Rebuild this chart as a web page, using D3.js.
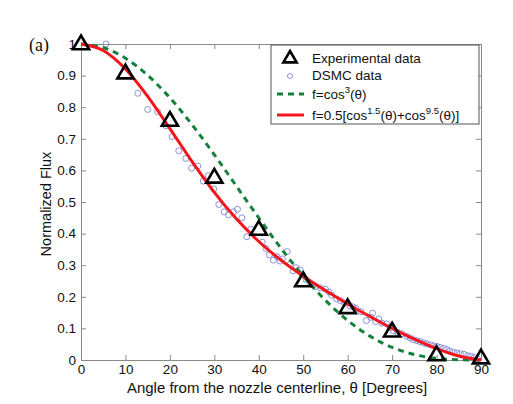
<!DOCTYPE html>
<html>
<head>
<meta charset="utf-8">
<script src="https://cdn.jsdelivr.net/npm/d3@7"></script>
<style>
  body { margin: 0; background: #fff; }
  svg { display: block; }
  text { font-family: "Liberation Sans", Arial, sans-serif; }
</style>
</head>
<body>
<svg id="chart" width="513" height="404"></svg>
<script>
// ---- Data ----
const expAngle = [0, 10, 20, 30, 40, 50, 60, 70, 80, 90];
const expFlux  = [1.0, 0.908, 0.758, 0.578, 0.413, 0.25, 0.165, 0.091, 0.016, 0.006];

const dsmcAngle = [5.6, 12.8, 15.0, 17.2, 19.1, 20.5, 22.0, 23.6, 24.9, 26.3, 27.5, 28.6, 29.9, 31.0, 32.2, 33.2, 34.3, 35.2, 36.2, 37.3, 38.2, 40.8, 41.6, 42.4, 43.3, 44.1, 44.8, 45.3, 46.4, 47.1, 47.7, 48.4, 49.3, 49.8, 50.6, 51.5, 52.2, 52.8, 53.9, 55.0, 55.8, 56.4, 57.5, 58.4, 59.3, 60.5, 61.2, 61.9, 63.0, 64.2, 65.2, 65.6, 66.3, 67.0, 67.7, 68.8, 69.5, 70.3, 71.2, 72.2, 73.3, 74.1, 74.8, 75.6, 76.3, 77.1, 77.8, 78.6, 79.3, 80.1, 80.8, 81.6, 82.3, 83.0, 83.8, 84.6, 85.4, 86.2, 87.0, 87.7, 88.5, 89.2];
const dsmcFlux  = [1.0, 0.844, 0.793, 0.786, 0.741, 0.707, 0.662, 0.638, 0.607, 0.614, 0.566, 0.583, 0.541, 0.492, 0.469, 0.459, 0.469, 0.477, 0.450, 0.390, 0.414, 0.373, 0.353, 0.333, 0.316, 0.327, 0.313, 0.320, 0.343, 0.303, 0.282, 0.292, 0.285, 0.270, 0.255, 0.245, 0.238, 0.233, 0.228, 0.224, 0.215, 0.205, 0.193, 0.188, 0.180, 0.171, 0.168, 0.163, 0.153, 0.125, 0.135, 0.148, 0.122, 0.130, 0.117, 0.114, 0.103, 0.092, 0.088, 0.083, 0.075, 0.069, 0.064, 0.061, 0.058, 0.054, 0.051, 0.048, 0.045, 0.043, 0.040, 0.037, 0.033, 0.028, 0.025, 0.022, 0.020, 0.018, 0.014, 0.012, 0.008, 0.004];

// model curves, tabulated every 5 degrees
const curveAngle = [0, 5, 10, 15, 20, 25, 30, 35, 40, 45, 50, 55, 60, 65, 70, 75, 80, 85, 90];
const cos3Flux   = [1, 0.98863, 0.955112, 0.901221, 0.829769, 0.744436, 0.649519, 0.549659, 0.449533, 0.353553, 0.265584, 0.1887, 0.125, 0.075482, 0.040009, 0.017338, 0.005236, 0.000662, 0];
const mixFlux    = [1, 0.97937, 0.920974, 0.83437, 0.732359, 0.627775, 0.530467, 0.445847, 0.374993, 0.315884, 0.265185, 0.219748, 0.177467, 0.13751, 0.100028, 0.065838, 0.036181, 0.012865, 0];

const xTicks = [0, 10, 20, 30, 40, 50, 60, 70, 80, 90];
const yTicks = [0, 0.1, 0.2, 0.3, 0.4, 0.5, 0.6, 0.7, 0.8, 0.9, 1];

// ---- Layout ----
const svg = d3.select("#chart");
const L = 81, R = 481, T = 44, B = 360;
const x = d3.scaleLinear().domain([0, 90]).range([L, R]);
const y = d3.scaleLinear().domain([0, 1]).range([B, T]);
const axisColor = "#8a8a8a";
const fmt = d3.format("~g");

// axes
const gx = svg.append("g").attr("transform", `translate(0,${B})`)
  .call(d3.axisBottom(x).tickValues(xTicks).tickSizeInner(-5).tickSizeOuter(0).tickPadding(4).tickFormat(fmt));
const gy = svg.append("g").attr("transform", `translate(${L},0)`)
  .call(d3.axisLeft(y).tickValues(yTicks).tickSizeInner(-5).tickSizeOuter(0).tickPadding(5).tickFormat(fmt));
const gt = svg.append("g").attr("transform", `translate(0,${T})`)
  .call(d3.axisTop(x).tickValues(xTicks).tickSizeInner(-5).tickSizeOuter(0).tickFormat(""));
const gr = svg.append("g").attr("transform", `translate(${R},0)`)
  .call(d3.axisRight(y).tickValues(yTicks).tickSizeInner(-5).tickSizeOuter(0).tickFormat(""));
[gx, gy, gt, gr].forEach(g => {
  g.selectAll("path.domain").attr("stroke", axisColor).attr("stroke-width", 1);
  g.selectAll(".tick line").attr("stroke", axisColor);
  g.selectAll("text").attr("fill", "#111").style("font-size", "13.5px")
    .style("font-family", '"Liberation Sans", Arial, sans-serif');
});

// DSMC circles
svg.append("g").selectAll("circle")
  .data(dsmcAngle.map((a, i) => [a, dsmcFlux[i]]))
  .join("circle")
  .attr("cx", d => x(d[0])).attr("cy", d => y(d[1])).attr("r", 3)
  .attr("fill", "none").attr("stroke", "#7f86d6").attr("stroke-width", 0.9);

// green dashed cos^3
const line = d3.line().x(d => x(d[0])).y(d => y(d[1])).curve(d3.curveMonotoneX);
svg.append("path")
  .datum(curveAngle.map((a, i) => [a, cos3Flux[i]]))
  .attr("d", line).attr("fill", "none").attr("stroke", "#14803c")
  .attr("stroke-width", 3).attr("stroke-dasharray", "6,5");

// red model
svg.append("path")
  .datum(curveAngle.map((a, i) => [a, mixFlux[i]]))
  .attr("d", line).attr("fill", "none").attr("stroke", "#f5141a")
  .attr("stroke-width", 3);

// triangles
const tri = s => `M0,${-s}L${s * 0.95},${s * 0.62}L${-s * 0.95},${s * 0.62}Z`;
svg.append("g").selectAll("path")
  .data(expAngle.map((a, i) => [a, expFlux[i]]))
  .join("path")
  .attr("transform", d => `translate(${x(d[0])},${y(d[1])})`)
  .attr("d", tri(8.5)).attr("fill", "none").attr("stroke", "#000")
  .attr("stroke-width", 2.6).attr("stroke-linejoin", "miter");

// legend
const lg = svg.append("g");
lg.append("rect").attr("x", 271).attr("y", 45).attr("width", 208).attr("height", 79)
  .attr("fill", "#fff").attr("stroke", "#555").attr("stroke-width", 1);
lg.append("path").attr("transform", "translate(290,58)").attr("d", tri(7))
  .attr("fill", "none").attr("stroke", "#000").attr("stroke-width", 2.6);
lg.append("circle").attr("cx", 290).attr("cy", 76).attr("r", 2.5)
  .attr("fill", "none").attr("stroke", "#7f86d6").attr("stroke-width", 0.9);
lg.append("line").attr("x1", 277).attr("x2", 304).attr("y1", 94).attr("y2", 94)
  .attr("stroke", "#14803c").attr("stroke-width", 3).attr("stroke-dasharray", "6,5");
lg.append("line").attr("x1", 277).attr("x2", 304).attr("y1", 115).attr("y2", 115)
  .attr("stroke", "#f5141a").attr("stroke-width", 3);
const lt = (yy) => lg.append("text").attr("x", 312).attr("y", yy).attr("fill", "#111").style("font-size", "13.5px");
lt(63).text("Experimental data");
lt(80).text("DSMC data");
const t3 = lt(99);
t3.append("tspan").text("f=cos");
t3.append("tspan").attr("dy", -6).style("font-size", "9.5px").text("3");
t3.append("tspan").attr("dy", 6).text("(θ)");
const t4 = lt(120);
t4.append("tspan").text("f=0.5[cos");
t4.append("tspan").attr("dy", -6).style("font-size", "9.5px").text("1.5");
t4.append("tspan").attr("dy", 6).text("(θ)+cos");
t4.append("tspan").attr("dy", -6).style("font-size", "9.5px").text("9.5");
t4.append("tspan").attr("dy", 6).text("(θ)]");

// axis titles
svg.append("text").attr("x", (L + R) / 2 - 4).attr("y", 393).attr("text-anchor", "middle")
  .attr("fill", "#111").style("font-size", "15px")
  .text("Angle from the nozzle centerline, θ [Degrees]");
svg.append("text").attr("transform", `translate(51,${(T + B) / 2 + 2}) rotate(-90)`)
  .attr("text-anchor", "middle").attr("fill", "#111").style("font-size", "14.5px")
  .text("Normalized Flux");
svg.append("text").attr("x", 29).attr("y", 51)
  .style("font-family", '"Liberation Serif", "Times New Roman", serif')
  .style("font-size", "18px").attr("fill", "#111").text("(a)");
</script>
</body>
</html>
